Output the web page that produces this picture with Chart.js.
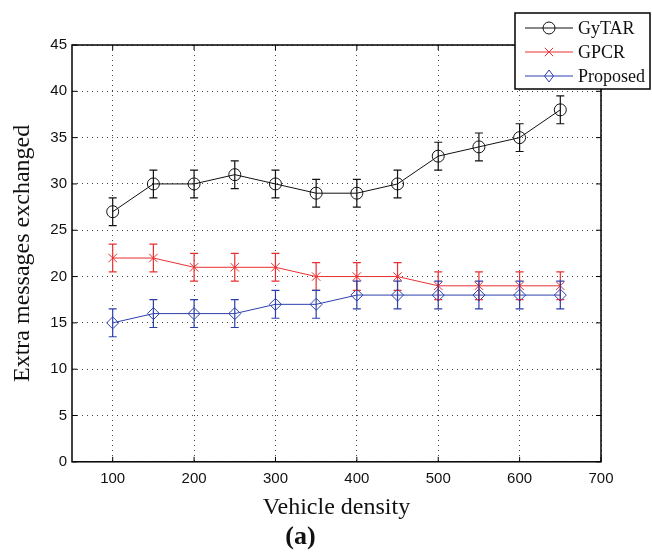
<!DOCTYPE html>
<html>
<head>
<meta charset="utf-8">
<script src="https://cdn.jsdelivr.net/npm/chart.js@4/dist/chart.umd.min.js"></script>
<style>
  html, body { margin: 0; padding: 0; background: #fff; }
  #wrap { width: 652px; height: 557px; }
</style>
</head>
<body>
<div id="wrap"><canvas id="chart"></canvas></div>
<script>
// vehicle density values (x)
const densities = [100, 150, 200, 250, 300, 350, 400, 450, 500, 550, 600, 650];
const xTicks = [100, 200, 300, 400, 500, 600, 700];
const yTicks = [0, 5, 10, 15, 20, 25, 30, 35, 40, 45];

const gytar = [27, 30, 30, 31, 30, 29, 29, 30, 33, 34, 35, 38];
const gpcr = [22, 22, 21, 21, 21, 20, 20, 20, 19, 19, 19, 19];
const proposed = [15, 16, 16, 16, 17, 17, 18, 18, 18, 18, 18, 18];

// half-length of the error bars
const gytarErr = [1.5, 1.5, 1.5, 1.5, 1.5, 1.5, 1.5, 1.5, 1.5, 1.5, 1.5, 1.5];
const gpcrErr = [1.5, 1.5, 1.5, 1.5, 1.5, 1.5, 1.5, 1.5, 1.5, 1.5, 1.5, 1.5];
const proposedErr = [1.5, 1.5, 1.5, 1.5, 1.5, 1.5, 1.5, 1.5, 1.5, 1.5, 1.5, 1.5];

const BLACK = '#111';
const RED = 'rgb(232, 48, 48)';
const BLUE = 'rgb(44, 64, 172)';

function toPoints(vals) {
    return densities.map((x, i) => ({ x: x, y: vals[i] }));
}

// error bars, drawn through the scales
const errorBars = {
    id: 'errorBars',
    afterDatasetsDraw(chart) {
        const ctx = chart.ctx;
        const xs = chart.scales.x, ys = chart.scales.y;
        chart.data.datasets.forEach(ds => {
            ctx.save();
            ctx.strokeStyle = ds.borderColor;
            ctx.lineWidth = 1.2;
            ds.data.forEach((p, i) => {
                const e = ds.errors[i];
                const px = xs.getPixelForValue(p.x);
                const top = ys.getPixelForValue(p.y + e);
                const bot = ys.getPixelForValue(p.y - e);
                ctx.beginPath();
                ctx.moveTo(px, top); ctx.lineTo(px, bot);
                ctx.moveTo(px - 4, top); ctx.lineTo(px + 4, top);
                ctx.moveTo(px - 4, bot); ctx.lineTo(px + 4, bot);
                ctx.stroke();
            });
            ctx.restore();
        });
    }
};

function drawMarker(ctx, style, x, y, r) {
    ctx.beginPath();
    if (style === 'circle') {
        ctx.arc(x, y, r, 0, Math.PI * 2);
    } else if (style === 'crossRot') {
        ctx.moveTo(x - r * 0.7, y - r * 0.7); ctx.lineTo(x + r * 0.7, y + r * 0.7);
        ctx.moveTo(x + r * 0.7, y - r * 0.7); ctx.lineTo(x - r * 0.7, y + r * 0.7);
    } else {
        ctx.moveTo(x, y - r); ctx.lineTo(x + r * 0.75, y);
        ctx.lineTo(x, y + r); ctx.lineTo(x - r * 0.75, y);
        ctx.closePath();
    }
    ctx.stroke();
}

// box around the plot, inward ticks and the boxed legend
const frame = {
    id: 'frame',
    afterDraw(chart) {
        const ctx = chart.ctx;
        const a = chart.chartArea;
        const xs = chart.scales.x, ys = chart.scales.y;
        ctx.save();
        ctx.strokeStyle = '#000';
        ctx.lineWidth = 1.5;
        ctx.strokeRect(a.left, a.top, a.right - a.left, a.bottom - a.top);
        ctx.lineWidth = 1;
        ctx.beginPath();
        xTicks.forEach(v => {
            const px = xs.getPixelForValue(v);
            ctx.moveTo(px, a.bottom); ctx.lineTo(px, a.bottom - 5);
            ctx.moveTo(px, a.top); ctx.lineTo(px, a.top + 5);
        });
        yTicks.forEach(v => {
            const py = ys.getPixelForValue(v);
            ctx.moveTo(a.left, py); ctx.lineTo(a.left + 5, py);
            ctx.moveTo(a.right, py); ctx.lineTo(a.right - 5, py);
        });
        ctx.stroke();

        // legend
        const lx = 515, ly = 13, lw = 135, lh = 76;
        ctx.fillStyle = '#fff';
        ctx.fillRect(lx, ly, lw, lh);
        ctx.lineWidth = 1.5;
        ctx.strokeStyle = '#000';
        ctx.strokeRect(lx, ly, lw, lh);
        ctx.font = '18px "Liberation Serif", "Times New Roman", serif';
        ctx.textBaseline = 'middle';
        chart.data.datasets.forEach((ds, i) => {
            const y = 28 + i * 24;
            ctx.strokeStyle = ds.borderColor;
            ctx.lineWidth = 1;
            ctx.beginPath();
            ctx.moveTo(525, y); ctx.lineTo(573, y);
            ctx.stroke();
            ctx.fillStyle = '#fff';
            drawMarker(ctx, ds.pointStyle, 549, y, ds.pointRadius);
            ctx.fillStyle = '#111';
            ctx.fillText(ds.label, 578, y + 1);
        });
        ctx.restore();
    }
};

function series(label, vals, errs, color, style, radius) {
    return {
        label: label,
        data: toPoints(vals),
        errors: errs,
        borderColor: color,
        backgroundColor: 'rgba(0,0,0,0)',
        borderWidth: 1,
        pointStyle: style,
        pointRadius: radius,
        pointBorderColor: color,
        pointBackgroundColor: 'rgba(0,0,0,0)',
        pointBorderWidth: 1,
        tension: 0
    };
}

const tickFont = { family: '"Liberation Sans", Arial, sans-serif', size: 15 };
const titleFont = { family: '"Liberation Serif", "Times New Roman", serif', size: 24 };

new Chart(document.getElementById('chart'), {
    type: 'line',
    data: {
        datasets: [
            series('GyTAR', gytar, gytarErr, BLACK, 'circle', 6),
            series('GPCR', gpcr, gpcrErr, RED, 'crossRot', 6),
            series('Proposed', proposed, proposedErr, BLUE, 'rectRot', 6)
        ]
    },
    options: {
        responsive: true,
        maintainAspectRatio: false,
        animation: false,
        layout: { padding: { top: 45, right: 51, left: 0, bottom: 0 } },
        plugins: {
            legend: { display: false },
            tooltip: { enabled: false },
            title: {
                display: true,
                position: 'bottom',
                text: '(a)',
                color: '#111',
                font: { family: '"Liberation Serif", "Times New Roman", serif', size: 26, weight: 'bold' },
                padding: { top: 0, bottom: 4 }
            }
        },
        scales: {
            x: {
                type: 'linear',
                min: 50,
                max: 700,
                afterBuildTicks: s => { s.ticks = xTicks.map(v => ({ value: v })); },
                afterFit: s => { s.height = 60; },
                ticks: { font: tickFont, color: '#111', padding: 8, maxRotation: 0 },
                grid: { color: '#444', lineWidth: 1, drawTicks: false },
                border: { display: false, dash: [1, 4] },
                title: { display: true, text: 'Vehicle density', font: titleFont, color: '#111', padding: { top: 0, bottom: 0 } }
            },
            y: {
                min: 0,
                max: 45,
                afterBuildTicks: s => { s.ticks = yTicks.map(v => ({ value: v })); },
                afterFit: s => { s.width = 72; },
                ticks: { font: tickFont, color: '#111', padding: 5 },
                grid: { color: '#444', lineWidth: 1, drawTicks: false },
                border: { display: false, dash: [1, 4] },
                title: { display: true, text: 'Extra messages exchanged', font: titleFont, color: '#111', padding: { top: 8, bottom: 0 } }
            }
        }
    },
    plugins: [errorBars, frame]
});
</script>
</body>
</html>
